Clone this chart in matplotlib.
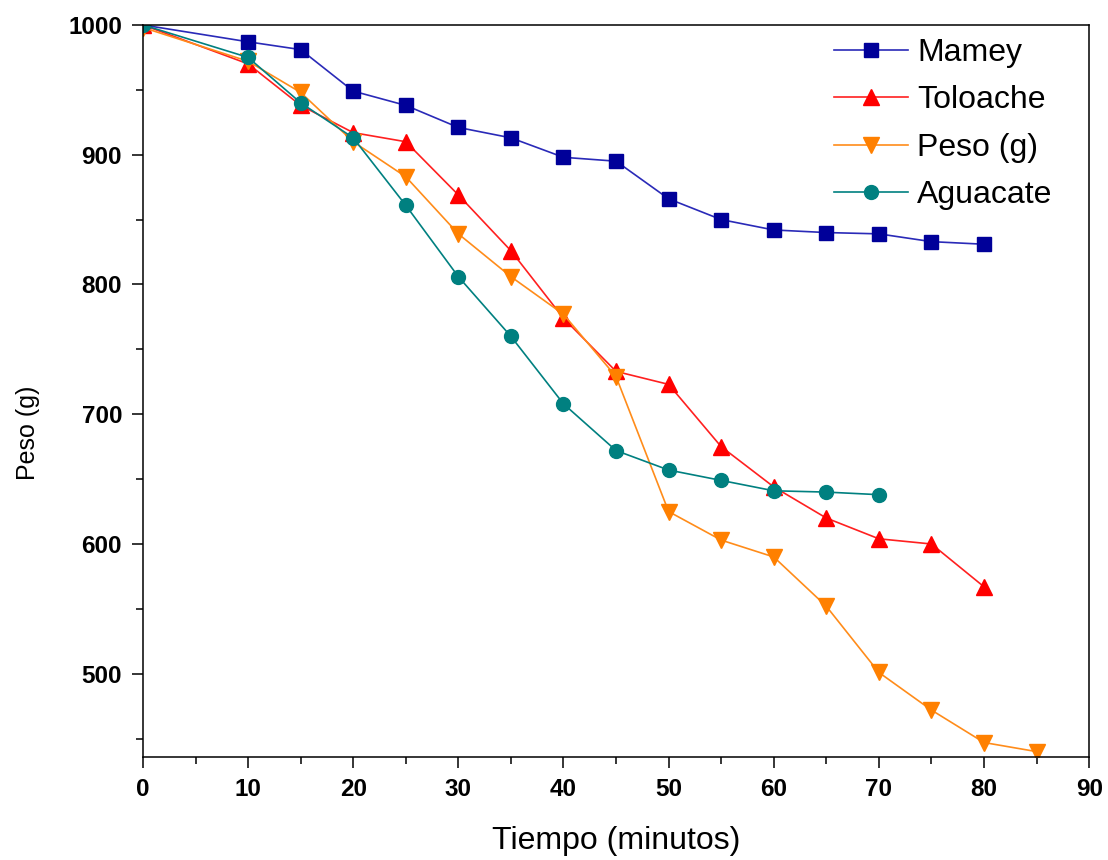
import matplotlib

matplotlib.use("Agg")
import matplotlib.pyplot as plt
from matplotlib.ticker import MultipleLocator

# Datos: peso (g) contra tiempo (minutos)
tiempo = [0, 10, 15, 20, 25, 30, 35, 40, 45, 50, 55, 60, 65, 70, 75, 80, 85]

mamey = [1000, 987, 981, 949, 938, 921, 913, 898, 895, 866, 850, 842, 840, 839, 833, 831]
toloache = [1000, 970, 938, 917, 910, 869, 826, 774, 733, 723, 675, 644, 620, 604, 600, 567]
peso = [998, 972, 948, 910, 883, 839, 806, 777, 729, 625, 603, 590, 552, 501, 472, 447, 440]
aguacate = [1000, 975, 940, 913, 861, 806, 760, 708, 672, 657, 649, 641, 640, 638]

series = [
    ("Mamey", mamey, "s", "#2a2ab8", "#000099", 10),
    ("Toloache", toloache, "^", "#ff2020", "#ff0000", 12),
    ("Peso (g)", peso, "v", "#ff8c1a", "#ff8000", 12),
    ("Aguacate", aguacate, "o", "#008080", "#008080", 10),
]

plt.rcParams.update({
    "font.family": ["Liberation Sans", "DejaVu Sans"],
    "axes.linewidth": 1.1,
    "xtick.major.width": 1.1,
    "ytick.major.width": 1.1,
    "xtick.minor.width": 1.1,
    "ytick.minor.width": 1.1,
})

fig = plt.figure(figsize=(11.08, 8.6), dpi=100)
ax = fig.add_axes([0.129, 0.120, 0.854, 0.851])

for nombre, valores, marca, c_linea, c_marca, tam in series:
    ax.plot(tiempo[:len(valores)], valores, color=c_linea, lw=1.2, marker=marca,
            ms=tam, mfc=c_marca, mec=c_marca, label=nombre)

ax.set_xlim(0, 90)
ax.set_ylim(436, 1000)
ax.xaxis.set_major_locator(MultipleLocator(10))
ax.xaxis.set_minor_locator(MultipleLocator(5))
ax.yaxis.set_major_locator(MultipleLocator(100))
ax.yaxis.set_minor_locator(MultipleLocator(50))
ax.tick_params(which="both", direction="out", top=False, right=False)
ax.tick_params(which="major", length=8, labelsize=17.5, pad=7)
ax.tick_params(which="minor", length=5)
for lab in ax.get_xticklabels() + ax.get_yticklabels():
    lab.set_fontweight("bold")

ax.set_xlabel("Tiempo (minutos)", fontsize=23, labelpad=18)
ax.set_ylabel("Peso (g)", fontsize=18)
ax.yaxis.set_label_coords(-0.109, 0.443)

ax.legend(loc="upper right", frameon=False, fontsize=23, handlelength=2.3,
          handletextpad=0.3, labelspacing=0.55, borderaxespad=0.0,
          bbox_to_anchor=(0.975, 1.0))

fig.savefig("out.png", dpi=100)
